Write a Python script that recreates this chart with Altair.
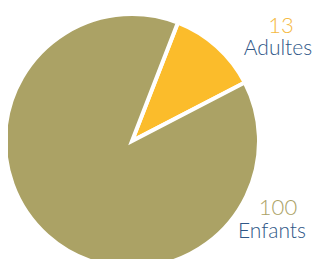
import altair as alt
import pandas as pd
import math

categories = ["Adultes", "Enfants"]
values = [13, 100]
slice_colors = ["#FBBC2B", "#ABA265"]
number_colors = ["#F5B942", "#ABA265"]
name_color = "#2F5787"

df = pd.DataFrame({"categorie": categories, "valeur": values, "ordre": [0, 1]})

start = 0.37
base = alt.Chart(df)

pie = base.mark_arc(outerRadius=127, stroke="white", strokeWidth=4).encode(
    theta=alt.Theta("valeur:Q", stack=True,
                    scale=alt.Scale(range=[start, start + 2 * math.pi])),
    color=alt.Color("categorie:N", scale=alt.Scale(domain=categories, range=slice_colors), legend=None),
    order=alt.Order("ordre:Q"),
    x=alt.value(124),
    y=alt.value(133),
)

font = "Lato"

def label(cat, xnum, ynum, xname, yname, numcolor):
    src = base.transform_filter(alt.datum.categorie == cat)
    num = src.mark_text(font=font, fontWeight=300, fontSize=22, color=numcolor,
                        align="center", baseline="alphabetic").encode(
        text=alt.Text("valeur:Q"), x=alt.value(xnum), y=alt.value(ynum))
    name = src.mark_text(font=font, fontWeight=300, fontSize=21, color=name_color,
                         align="center", baseline="alphabetic").encode(
        text=alt.Text("categorie:N"), x=alt.value(xname), y=alt.value(yname))
    return num + name

chart = alt.layer(
    pie,
    label("Adultes", 273, 25, 270, 47, number_colors[0]),
    label("Enfants", 270, 207, 264, 230, number_colors[1]),
).properties(
    width=304, height=251, padding=0,
    autosize=alt.AutoSizeParams(type="none"),
).configure_view(stroke=None)

chart.save("out.html", embed_options={"renderer": "svg", "actions": False})
